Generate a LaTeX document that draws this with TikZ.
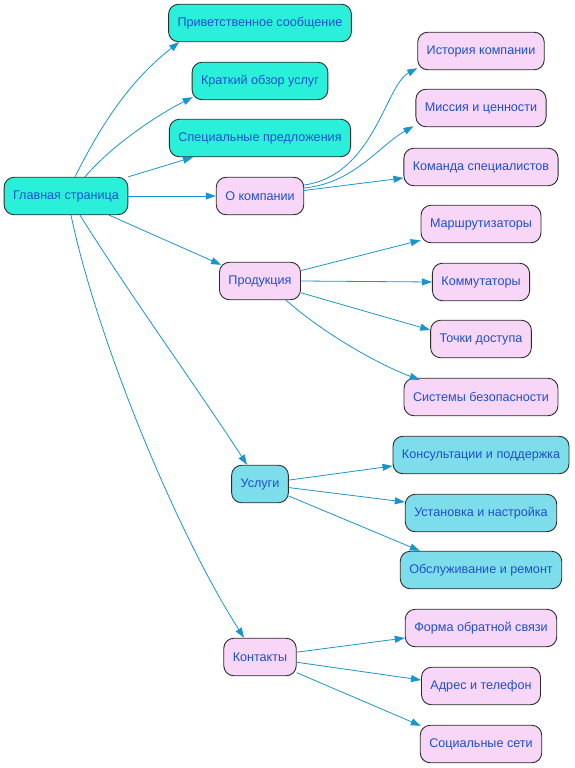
\documentclass[tikz,border=0pt]{standalone}
\usepackage{fontspec}
\setmainfont{Liberation Sans}
\usetikzlibrary{arrows.meta}
\definecolor{cteal}{HTML}{2AF0DA}
\definecolor{cpink}{HTML}{F7D6F7}
\definecolor{cblue}{HTML}{7EDDEA}
\definecolor{ctext}{HTML}{1F50CF}
\definecolor{cedge}{HTML}{1795CC}
\definecolor{cborder}{HTML}{2B2B2B}
\tikzset{
  box/.style={draw=cborder, line width=0.9pt, rounded corners=10pt, minimum height=37.5pt,
    inner xsep=9pt, text=ctext, font=\fontsize{12.6}{14}\selectfont},
  tealbox/.style={box, fill=cteal},
  pinkbox/.style={box, fill=cpink},
  bluebox/.style={box, fill=cblue},
  edge/.style={draw=cedge, line width=0.8pt, -{Triangle[length=10pt,width=7pt]}},
}
\begin{document}
\begin{tikzpicture}[x=1pt,y=-1pt]
\useasboundingbox (0,0) rectangle (575,768);
\node[tealbox] (main) at (66,196) {Главная страница};
\node[tealbox] (welcome) at (260,23) {Приветственное сообщение};
\node[tealbox] (brief) at (260,81) {Краткий обзор услуг};
\node[tealbox] (special) at (260,138) {Специальные предложения};
\node[pinkbox] (about) at (260,196) {О компании};
\node[pinkbox] (history) at (481,51) {История компании};
\node[pinkbox] (mission) at (481,108) {Миссия и ценности};
\node[pinkbox] (team) at (481,167) {Команда специалистов};
\node[pinkbox] (prod) at (260,281) {Продукция};
\node[pinkbox] (router) at (481,224) {Маршрутизаторы};
\node[pinkbox] (switch) at (481,282) {Коммутаторы};
\node[pinkbox] (ap) at (481,339) {Точки доступа};
\node[pinkbox] (sec) at (481,397) {Системы безопасности};
\node[bluebox] (serv) at (260,484) {Услуги};
\node[bluebox] (consult) at (481,455) {Консультации и поддержка};
\node[bluebox] (install) at (481,513) {Установка и настройка};
\node[bluebox] (maint) at (481,570) {Обслуживание и ремонт};
\node[pinkbox] (contacts) at (260,657) {Контакты};
\node[pinkbox] (form) at (481,628) {Форма обратной связи};
\node[pinkbox] (addr) at (481,686) {Адрес и телефон};
\node[pinkbox] (social) at (481,744) {Социальные сети};

% from main
\draw[edge] ([xshift=9pt]main.north) .. controls +(30,-60) and +(-45,35) .. ([xshift=11pt]welcome.south west);
\draw[edge] ([xshift=19pt]main.north) .. controls +(30,-35) and +(-30,15) .. ([xshift=1pt,yshift=3pt]brief.south west);
\draw[edge] (main.north east) -- ([xshift=24pt]special.south west);
\draw[edge] (main.east) -- (about.west);
\draw[edge] (main) -- ([xshift=2pt,yshift=-3pt]prod.north west);
\draw[edge] ([xshift=14pt]main.south) .. controls +(50,80) and +(-45,-70) .. ([xshift=-13pt]serv.north);
\draw[edge] ([xshift=5pt]main.south) .. controls +(25,120) and +(-70,-110) .. ([xshift=-16pt]contacts.north);

% from about
\draw[edge] ([yshift=11pt]about.east) .. controls +(70,-10) and +(-32,17) .. ([yshift=2pt]history.south west);
\draw[edge] ([yshift=8pt]about.east) .. controls +(50,-5) and +(-35,20) .. ([xshift=-2pt,yshift=1pt]mission.south west);
\draw[edge] (about) -- ([yshift=-11pt]team.west);

% from prod
\draw[edge] (prod) -- ([yshift=3pt]router.south west);
\draw[edge] (prod.east) -- (switch.west);
\draw[edge] (prod) -- ([yshift=9pt]ap.west);
\draw[edge] ([xshift=-15pt]prod.south east) .. controls +(40,35) and +(-40,-15) .. ([xshift=16pt,yshift=-2pt]sec.north west);

% from serv
\draw[edge] (serv) -- ([yshift=-11pt]consult.west);
\draw[edge] (serv) -- ([yshift=11pt]install.west);
\draw[edge] (serv) -- ([xshift=20pt]maint.north west);

% from contacts
\draw[edge] (contacts) -- ([yshift=-10pt]form.west);
\draw[edge] (contacts) -- ([yshift=6pt]addr.west);
\draw[edge] (contacts) -- ([xshift=1pt,yshift=-1pt]social.north west);
\end{tikzpicture}
\end{document}
